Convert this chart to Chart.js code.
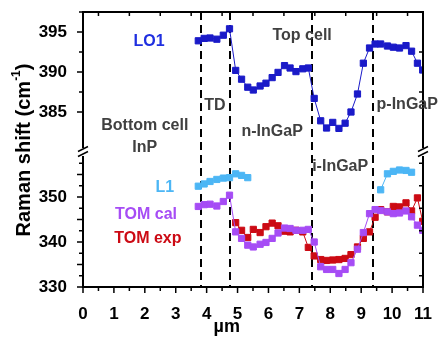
<!DOCTYPE html>
<html>
<head>
<meta charset="utf-8">
<script src="https://cdn.jsdelivr.net/npm/chart.js@4"></script>
<style>
  html, body { margin: 0; padding: 0; background: #fff; }
  #wrap { width: 439px; height: 344px; }
</style>
</head>
<body>
<div id="wrap"><canvas id="raman" width="439" height="344"></canvas></div>
<script>
// positions along the scan (um)
const pos = [3.73, 3.92, 4.11, 4.33, 4.54, 4.74, 4.94, 5.13, 5.33, 5.51, 5.73, 5.92, 6.12, 6.31, 6.52, 6.70, 6.89, 7.11, 7.29,
  7.48, 7.69, 7.88, 8.08, 8.28, 8.48, 8.67, 8.88, 9.07, 9.27, 9.45, 9.63, 9.85, 10.04, 10.24, 10.45, 10.63, 10.82, 10.99];

const lo1 = [393.9, 394.2, 394.25, 394.1, 394.6, 395.4, 390.2, 389.1, 388.1, 387.75, 388.25, 388.6, 389.3, 389.95, 390.8, 390.5, 390.05, 390.4, 390.5,
  386.7, 383.9, 383.0, 383.7, 382.95, 383.6, 385.0, 387.25, 391.1, 393.0, 393.5, 393.5, 393.25, 393.1, 393.0, 393.3, 392.6, 391.1, 390.25];

const l1 = [352.4, 352.9, 353.45, 353.9, 354.2, 354.3, 355.15, 354.8, 354.3, null, null, null, null, null, null, null, null, null, null,
  null, null, null, null, null, null, null, null, null, null, null, 351.6, 355.15, 355.7, 356.0, 355.9, 355.5, null, null];

const tomCal = [347.9, 348.3, 348.4, 348.0, 349.0, 350.4, 342.25, 340.8, 339.3, 338.9, 339.5, 339.9, 340.8, 342.0, 343.1, 343.0, 342.6, 342.6, 342.8,
  340.0, 334.5, 333.9, 333.9, 333.0, 333.9, 335.4, 338.4, 342.1, 346.3, 347.2, 347.0, 346.7, 346.3, 346.45, 346.9, 345.6, 343.75, 342.6];

const tomExp = [null, null, null, null, null, null, 344.3, 342.6, 341.0, 342.8, 342.1, 343.4, 344.2, 343.6, 342.4, 342.25, 342.6, 342.25, 338.8,
  336.9, 336.1, 335.9, 336.0, 336.1, 336.35, 337.2, 338.9, 340.8, 342.25, 345.5, 347.2, 346.7, 347.9, 347.8, 348.7, 346.9, 349.8, 344.6];

// tick labels
const xTicks = [0, 1, 2, 3, 4, 5, 6, 7, 8, 9, 10, 11];
const topTicks = [385, 390, 395];
const botTicks = [330, 335, 340, 345, 350, 355];

// layer boundaries (dashed lines)
const bounds = [3.81, 4.76, 7.40, 9.37];

const FONT = '"Liberation Sans", Arial, sans-serif';
const GRAY = '#404040';

// text labels: [text, x, axis, y, color]
const labels = [
  ['LO1', 2.14, 'yTop', 393.75, '#1f2fe0'],
  ['Top cell', 7.09, 'yTop', 394.6, GRAY],
  ['TD', 4.27, 'yTop', 385.75, GRAY],
  ['Bottom cell', 2.0, 'yTop', 383.25, GRAY],
  ['InP', 2.0, 'yTop', 380.6, GRAY],
  ['n-InGaP', 6.12, 'yTop', 382.5, GRAY],
  ['p-InGaP', 10.49, 'yTop', 385.9, GRAY],
  ['i-InGaP', 8.32, 'yBot', 356.8, GRAY],
  ['L1', 2.65, 'yBot', 352.1, '#4cb6f5'],
  ['TOM cal', 2.04, 'yBot', 346.15, '#a64cf5'],
  ['TOM exp', 2.1, 'yBot', 340.8, '#cc0a14']
];

function series(vals) {
  return pos.map((x, i) => ({ x: x, y: vals[i] }));
}

function mkSet(label, vals, color, axis) {
  return {
    label: label,
    data: series(vals),
    yAxisID: axis,
    borderColor: color,
    backgroundColor: color,
    borderWidth: 1,
    pointStyle: 'rect',
    pointRadius: 4.4,
    pointBorderWidth: 1,
    spanGaps: false
  };
}

function tickLine(ctx, x1, y1, x2, y2) {
  ctx.beginPath();
  ctx.moveTo(x1, y1);
  ctx.lineTo(x2, y2);
  ctx.stroke();
}

function noPad(s) {
  s.paddingTop = 0;
  s.paddingBottom = 0;
  s.paddingLeft = 0;
  s.paddingRight = 0;
}

const frame = {
  id: 'frame',
  beforeDatasetsDraw(chart) {
    const ctx = chart.ctx, a = chart.chartArea, xs = chart.scales.x;
    ctx.save();
    ctx.strokeStyle = '#000';
    ctx.lineWidth = 2;
    ctx.setLineDash([8, 5]);
    bounds.forEach(b => {
      const px = Math.round(xs.getPixelForValue(b));
      tickLine(ctx, px, a.top, px, a.bottom);
    });
    ctx.restore();
  },
  afterDraw(chart) {
    const ctx = chart.ctx, a = chart.chartArea;
    const xs = chart.scales.x, yt = chart.scales.yTop, yb = chart.scales.yBot;
    const brk = yt.bottom;
    ctx.save();
    ctx.strokeStyle = '#000';
    ctx.lineWidth = 2;
    // frame with broken side axes
    tickLine(ctx, a.left - 1, a.top, a.right + 1, a.top);
    tickLine(ctx, a.left - 1, a.bottom, a.right + 1, a.bottom);
    [a.left, a.right].forEach(x => {
      tickLine(ctx, x, a.top, x, brk - 4);
      tickLine(ctx, x, brk + 4, x, a.bottom);
      ctx.lineWidth = 1.5;
      tickLine(ctx, x - 5, brk - 0.5, x + 5, brk - 5.5);
      tickLine(ctx, x - 5, brk + 4.5, x + 5, brk - 0.5);
      ctx.lineWidth = 2;
    });
    ctx.lineWidth = 1.5;
    // x ticks
    xTicks.forEach(v => tickLine(ctx, xs.getPixelForValue(v), a.bottom, xs.getPixelForValue(v), a.bottom + 6));
    for (let v = 0.5; v < 11; v++) {
      const px = xs.getPixelForValue(v);
      tickLine(ctx, px, a.bottom, px, a.bottom + 4);
      tickLine(ctx, px, a.top, px, a.top + 4);
    }
    // y ticks
    [[yt, topTicks], [yb, botTicks]].forEach(([s, ticks]) => {
      ticks.forEach(v => {
        const py = s.getPixelForValue(v);
        tickLine(ctx, a.left - 6, py, a.left, py);
        const pm = s.getPixelForValue(v + 2.5);
        tickLine(ctx, a.left - 4, pm, a.left, pm);
        tickLine(ctx, a.right - 4, pm, a.right, pm);
      });
    });
    // labels inside the plot
    ctx.font = 'bold 16px ' + FONT;
    ctx.textAlign = 'center';
    ctx.textBaseline = 'middle';
    labels.forEach(([t, x, ax, y, c]) => {
      ctx.fillStyle = c;
      ctx.fillText(t, xs.getPixelForValue(x), chart.scales[ax].getPixelForValue(y));
    });
    // x title, sits left of centre in the original
    ctx.fillStyle = '#000';
    ctx.font = 'bold 18px ' + FONT;
    ctx.fillText('µm', xs.getPixelForValue(4.65), 327);
    // y title with superscript
    ctx.translate(24, 150);
    ctx.rotate(-Math.PI / 2);
    const big = 'bold 20px ' + FONT, small = 'bold 12px ' + FONT;
    const p1 = 'Raman shift (cm', p3 = ')';
    ctx.font = big;
    const w1 = ctx.measureText(p1).width, w3 = ctx.measureText(p3).width;
    ctx.font = small;
    const w2 = ctx.measureText('-1').width;
    let x0 = -(w1 + w2 + w3) / 2;
    ctx.textAlign = 'left';
    ctx.font = big;
    ctx.fillText(p1, x0, 0);
    ctx.font = small;
    ctx.fillText('-1', x0 + w1, -7);
    ctx.font = big;
    ctx.fillText(p3, x0 + w1 + w2, 0);
    ctx.restore();
  }
};

const tickFont = { family: FONT, size: 17, weight: 'bold' };

const chart = new Chart(document.getElementById('raman'), {
  type: 'line',
  data: {
    datasets: [
      mkSet('LO1', lo1, '#1a1ac8', 'yTop'),
      mkSet('L1', l1, '#4cb6f5', 'yBot'),
      mkSet('TOM cal', tomCal, '#a64cf5', 'yBot'),
      mkSet('TOM exp', tomExp, '#cc0a14', 'yBot')
    ]
  },
  options: {
    responsive: false,
    animation: false,
    devicePixelRatio: 1,
    layout: { padding: { left: 0, top: 12, right: 16, bottom: 0 } },
    plugins: { legend: { display: false }, tooltip: { enabled: false } },
    scales: {
      x: {
        type: 'linear',
        min: 0,
        max: 11,
        grid: { display: false },
        border: { display: false },
        ticks: { color: '#000', font: tickFont, padding: 9, maxRotation: 0 },
        afterBuildTicks(s) { s.ticks = xTicks.map(v => ({ value: v })); },
        afterFit(s) { s.height = 57; noPad(s); }
      },
      yBot: {
        type: 'linear',
        position: 'left',
        stack: 'raman',
        stackWeight: 135,
        min: 330,
        max: 360,
        grid: { display: false },
        border: { display: false },
        ticks: { color: '#000', font: tickFont, padding: 8 },
        afterBuildTicks(s) { s.ticks = botTicks.map(v => ({ value: v })); },
        afterFit(s) { s.width = 83; noPad(s); }
      },
      yTop: {
        type: 'linear',
        position: 'left',
        stack: 'raman',
        stackWeight: 140,
        min: 380,
        max: 397.5,
        grid: { display: false },
        border: { display: false },
        ticks: { color: '#000', font: tickFont, padding: 8 },
        afterBuildTicks(s) { s.ticks = topTicks.map(v => ({ value: v })); },
        afterFit(s) { s.width = 83; noPad(s); }
      }
    }
  },
  plugins: [frame]
});
</script>
</body>
</html>
